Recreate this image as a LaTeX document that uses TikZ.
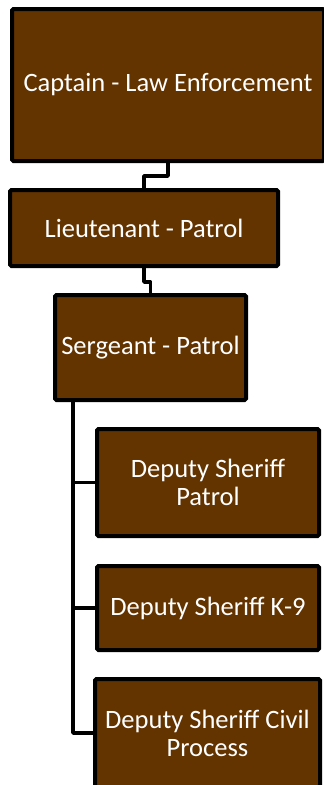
\documentclass[tikz,border=0pt]{standalone}
\usepackage{fontspec}
\setmainfont{Carlito}
\begin{document}
\begin{tikzpicture}[x=1pt,y=-1pt,
  orgbox/.style={draw=black,line width=4pt,fill=boxbrown,rounded corners=1.5pt,
    text=white,align=center,inner sep=0pt,font=\fontsize{26.5}{28}\selectfont},
  link/.style={draw=black,line width=3.5pt,line join=round}]
\definecolor{boxbrown}{RGB}{99,51,0}
\useasboundingbox (0,0) rectangle (324,785);
\node[orgbox,minimum width=312pt,minimum height=152pt] (cap) at (168,85) {Captain - Law Enforcement};
\node[orgbox,minimum width=268pt,minimum height=76pt] (lt) at (144,228) {Lieutenant - Patrol};
\node[orgbox,minimum width=191pt,minimum height=105pt] (sgt) at (150.5,347.5) {Sergeant - Patrol};
\node[orgbox,minimum width=222pt,minimum height=107pt] (pat) at (208,482.5) {Deputy Sheriff\\Patrol};
\node[orgbox,minimum width=222pt,minimum height=84pt] (k9) at (208,608) {Deputy Sheriff K-9};
\node[orgbox,minimum width=225pt,minimum height=108pt] (civ) at (207.5,733) {Deputy Sheriff Civil\\Process};
\coordinate (trunk) at (73,0);
\draw[link] (cap.south) -- ++(0,13) -| (lt.north);
\draw[link] (lt.south) -- ++(0,14) -| (sgt.north);
\draw[link] (sgt.south -| trunk) |- (civ.west);
\draw[link] (trunk |- pat.west) -- (pat.west);
\draw[link] (trunk |- k9.west) -- (k9.west);
\end{tikzpicture}
\end{document}
